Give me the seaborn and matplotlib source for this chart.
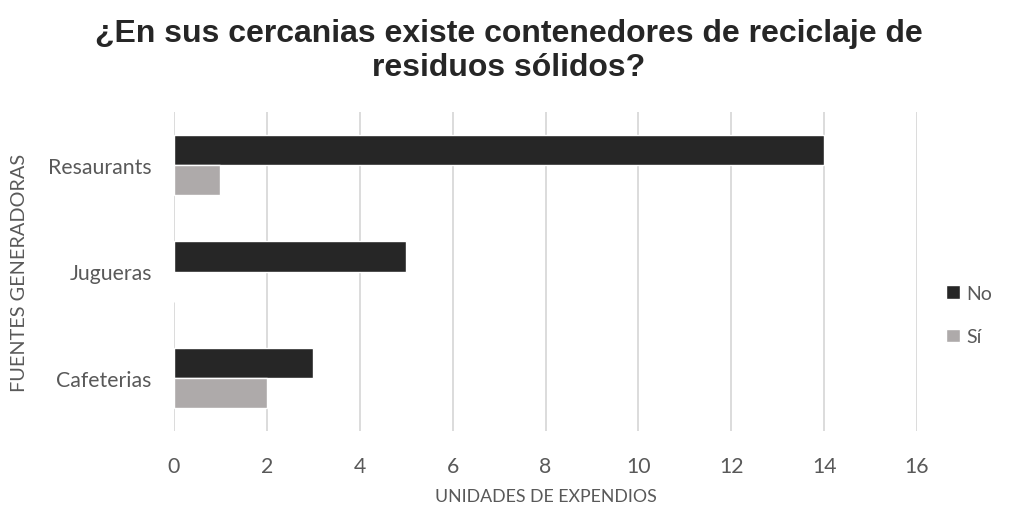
import matplotlib
matplotlib.use("Agg")
import matplotlib.pyplot as plt
import seaborn as sns
import pandas as pd

categories = ["Resaurants", "Jugueras", "Cafeterias"]
no_values = [14, 5, 3]
si_values = [1, 0, 2]
series_names = ["No", "Sí"]
x_ticks = [0, 2, 4, 6, 8, 10, 12, 14, 16]

df = pd.DataFrame({
    "categoria": categories * 2,
    "valor": no_values + si_values,
    "serie": [series_names[0]] * len(categories) + [series_names[1]] * len(categories),
})

sns.set_theme(style="white")
plt.rcParams["font.family"] = ["Lato", "DejaVu Sans"]

fig = plt.figure(figsize=(10.21, 5.10), dpi=100)
ax = fig.add_axes([174 / 1021, 1 - 432 / 510, (917 - 174) / 1021, (432 - 113) / 510])

sns.barplot(data=df, y="categoria", x="valor", hue="serie", order=categories,
            hue_order=series_names, palette=["#262626", "#aeaaaa"], orient="h",
            width=0.57, saturation=1, ax=ax, legend=True, zorder=3)

ax.set_xlim(0, 16)
ax.set_xticks(x_ticks)
ax.set_xticklabels([str(t) for t in x_ticks])
ax.grid(axis="x", color="#d9d9d9", linewidth=1.3, zorder=0)
ax.set_axisbelow(True)
for s in ax.spines.values():
    s.set_visible(False)
ax.tick_params(axis="both", length=0, labelsize=15.3, colors="#595959")
ax.tick_params(axis="x", pad=18)
ax.tick_params(axis="y", pad=16)
ax.set_xlabel("UNIDADES DE EXPENDIOS", fontsize=12.8, color="#595959")
ax.set_ylabel("FUENTES GENERADORAS", fontsize=14.3, color="#595959")
ax.xaxis.set_label_coords(0.5, (432 - 497) / (432 - 113))
ax.xaxis.label.set_va("center")
ax.yaxis.set_label_coords((20 - 174) / (917 - 174), 0.5)
ax.yaxis.label.set_va("center")

leg = ax.get_legend()
handles = leg.legend_handles
leg.remove()
fig.legend(handles, series_names, loc="center left", bbox_to_anchor=(0.927, 0.38),
           frameon=False, fontsize=14, labelcolor="#595959", handlelength=0.7,
           handleheight=0.7, handletextpad=0.3, labelspacing=1.35,
           borderaxespad=0, borderpad=0)

fig.suptitle("¿En sus cercanias existe contenedores de reciclaje de\nresiduos sólidos?",
             x=0.498, y=0.962, fontsize=23, fontweight="bold", color="#262626",
             family=["Liberation Sans", "DejaVu Sans"], linespacing=1.15)

fig.savefig("out.png", dpi=100)
